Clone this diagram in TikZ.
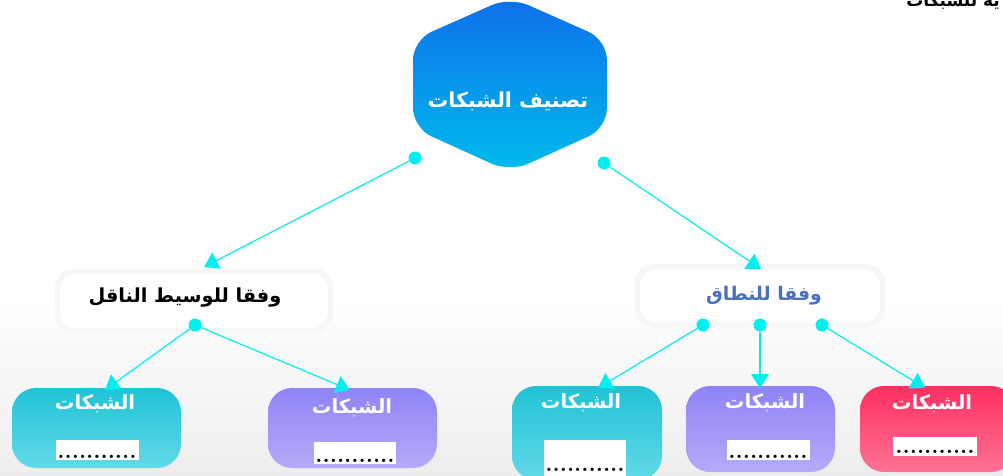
\documentclass[tikz,border=0pt]{standalone}
\usepackage{fontspec}
\newfontfamily\arabicfont[Script=Arabic]{DejaVu Sans}
\TeXXeTstate=1
\usetikzlibrary{arrows.meta}
\definecolor{lnc}{HTML}{00F0F0}
\definecolor{hexTop}{HTML}{0E6FEA}
\definecolor{hexBot}{HTML}{00BCEB}
\definecolor{tealTop}{HTML}{1FC3D6}
\definecolor{tealBot}{HTML}{63D9E8}
\definecolor{purTop}{HTML}{8F84F7}
\definecolor{purBot}{HTML}{B3ABF8}
\definecolor{redTop}{HTML}{FF2F62}
\definecolor{redBot}{HTML}{FF7396}
\definecolor{scopeblue}{HTML}{4A70C2}
\tikzset{
  dotnode/.style={circle,fill=lnc,inner sep=0pt,minimum size=13pt},
  conn/.style={draw=lnc,line width=1.2pt,-{Triangle[width=18pt,length=14pt]}},
  leafbox/.style={rounded corners=24pt,inner sep=0pt},
  leaftitle/.style={text=white,font=\arabicfont\bfseries\fontsize{19.5}{22}\selectfont},
  blank/.style={fill=white,inner sep=0pt,font=\bfseries\fontsize{23}{24}\selectfont,text depth=0pt},
  midbox/.style={fill=white,rounded corners=16pt,inner sep=0pt},
}
\begin{document}
\begin{tikzpicture}[x=1pt,y=-1pt]
\useasboundingbox (0,0) rectangle (1003,476);
\clip (0,0) rectangle (1003,476);
\fill[white] (0,0) rectangle (1003,476);
\shade[top color=white,bottom color=black!7] (0,300) rectangle (1003,476);
% top-right clipped heading
\node[anchor=base east,inner sep=0pt,font=\arabicfont\bfseries\fontsize{17}{20}\selectfont] (head) at (1000,7) {\beginR ية للشبكات\endR};
% hexagon
\fill[black!3] (416,80) rectangle (604,125);
\shade[top color=hexTop,bottom color=hexBot,rounded corners=20pt]
  (510,-3) -- (607,40) -- (607,128) -- (510,172) -- (413,128) -- (413,40) -- cycle;
\node[text=white,font=\arabicfont\bfseries\fontsize{20.5}{24}\selectfont] (root) at (508,101) {\beginR تصنيف الشبكات\endR};
\node[dotnode] (dl) at (415,158) {};
\node[dotnode] (dr) at (604,163) {};
% mid boxes
\fill[black!3,rounded corners=18pt] (55,269) rectangle (333,333);
\node[midbox,minimum width=268pt,minimum height=54pt] (mbL) at (194,301) {};
\node[font=\arabicfont\bfseries\fontsize{19.3}{22}\selectfont] (tL) at (185,298) {\beginR وفقا للوسيط الناقل\endR};
\fill[black!3,rounded corners=18pt] (635,264) rectangle (885,327);
\node[midbox,minimum width=240pt,minimum height=52pt] (mbR) at (760,296) {};
\node[text=scopeblue,font=\arabicfont\bfseries\fontsize{18.8}{22}\selectfont] (tR) at (764,296) {\beginR وفقا للنطاق\endR};
\coordinate (aL) at (204,267);
\coordinate (aR) at (761,269);
\draw[conn] (dl) -- (aL);
\draw[conn] (dr) -- (aR);
\node[dotnode] (dL1) at (195,325) {};
\node[dotnode] (dR1) at (703,325) {};
\node[dotnode] (dR2) at (760,325) {};
\node[dotnode] (dR3) at (822,325) {};
% leaf boxes
\shade[top color=tealTop,bottom color=tealBot,leafbox] (12,388) rectangle (181,468);
\shade[top color=purTop,bottom color=purBot,leafbox] (268,388) rectangle (437,468);
\shade[top color=tealTop,bottom color=tealBot,leafbox] (512,386) rectangle (662,480);
\shade[top color=purTop,bottom color=purBot,leafbox] (686,386) rectangle (835,472);
\shade[top color=redTop,bottom color=redBot,leafbox] (860,386) rectangle (1015,472);
\coordinate (b1) at (105,390);
\coordinate (b2) at (350,390);
\coordinate (b3) at (598,388);
\coordinate (b4) at (760,388);
\coordinate (b5) at (925,388);
\draw[conn] (dL1) -- (b1);
\draw[conn] (dL1) -- (b2);
\draw[conn] (dR1) -- (b3);
\draw[conn] (dR2) -- (b4);
\draw[conn] (dR3) -- (b5);
\node[leaftitle] (t1) at (95,404) {\beginR الشبكات\endR};
\node[leaftitle] (t2) at (352,408) {\beginR الشبكات\endR};
\node[leaftitle] (t3) at (581,403) {\beginR الشبكات\endR};
\node[leaftitle] (t4) at (765,403) {\beginR الشبكات\endR};
\node[leaftitle] (t5) at (932,404) {\beginR الشبكات\endR};
\node[blank,minimum width=83pt,minimum height=20pt,text height=16pt] (w1) at (97,450) {...........};
\node[blank,minimum width=82pt,minimum height=22pt,text height=18pt] (w2) at (355,453) {...........};
\node[blank,minimum width=82pt,minimum height=36pt,text height=26pt] (w3) at (585,458) {...........};
\node[blank,minimum width=83pt,minimum height=20pt,text height=16pt] (w4) at (768,450) {...........};
\node[blank,minimum width=84pt,minimum height=19pt,text height=15pt] (w5) at (935,446) {...........};
\end{tikzpicture}
\end{document}
